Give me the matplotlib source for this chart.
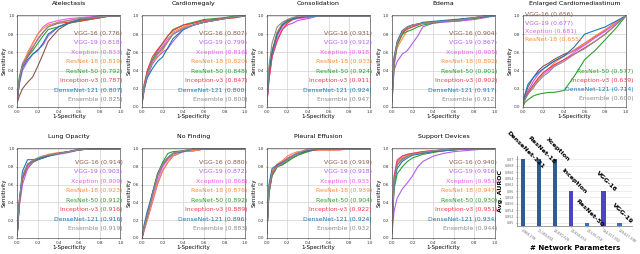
import matplotlib
matplotlib.use("Agg")
import matplotlib.pyplot as plt

# model names / colours shared by all ROC panels
MODELS = ["VGG-16", "VGG-19", "Xception", "ResNet-18", "ResNet-50",
          "Inception-v3", "DenseNet-121", "Ensemble"]
COLORS = ["#8c564b", "#b45cf0", "#f05cf0", "#ff8c3a", "#2ca02c",
          "#e8404a", "#1f77b4", "#8c8c8c"]

FPR = [0.0, 0.02, 0.05, 0.1, 0.15, 0.2, 0.25, 0.3, 0.4, 0.5, 0.6, 0.7, 0.8, 0.9, 1.0]

# ---- AUROC values per panel (legend) ----
AUC_ATEL = [0.776, 0.818, 0.833, 0.819, 0.792, 0.787, 0.807, 0.825]
AUC_CARDIO = [0.807, 0.799, 0.816, 0.820, 0.848, 0.847, 0.800, 0.800]
AUC_CONSOL = [0.931, 0.912, 0.918, 0.933, 0.924, 0.911, 0.924, 0.947]
AUC_EDEMA = [0.904, 0.867, 0.905, 0.892, 0.901, 0.902, 0.917, 0.912]
AUC_ENLARGED = [0.656, 0.677, 0.681, 0.655, 0.577, 0.639, 0.714, 0.600]
AUC_LUNG = [0.914, 0.903, 0.909, 0.923, 0.912, 0.916, 0.916, 0.919]
AUC_NOFIND = [0.880, 0.872, 0.868, 0.876, 0.892, 0.889, 0.896, 0.883]
AUC_PLEURAL = [0.919, 0.918, 0.933, 0.939, 0.904, 0.922, 0.924, 0.932]
AUC_SUPPORT = [0.940, 0.916, 0.951, 0.947, 0.930, 0.951, 0.934, 0.944]

# ---- sensitivity, one list per model ----
TPR_ATEL = [
    [0.05, 0.12, 0.20, 0.27, 0.33, 0.45, 0.58, 0.72, 0.85, 0.92, 0.95, 0.97, 0.98, 1.0, 1.0],
    [0.08, 0.25, 0.40, 0.50, 0.58, 0.63, 0.68, 0.78, 0.88, 0.93, 0.96, 0.98, 0.99, 1.0, 1.0],
    [0.10, 0.30, 0.48, 0.58, 0.70, 0.80, 0.88, 0.92, 0.95, 0.97, 0.98, 0.99, 1.0, 1.0, 1.0],
    [0.10, 0.30, 0.45, 0.60, 0.70, 0.80, 0.86, 0.90, 0.93, 0.95, 0.97, 0.98, 0.99, 1.0, 1.0],
    [0.10, 0.33, 0.46, 0.55, 0.62, 0.70, 0.78, 0.85, 0.88, 0.92, 0.94, 0.96, 0.98, 1.0, 1.0],
    [0.05, 0.28, 0.45, 0.55, 0.65, 0.75, 0.82, 0.88, 0.92, 0.93, 0.94, 0.96, 0.98, 1.0, 1.0],
    [0.08, 0.27, 0.43, 0.52, 0.58, 0.62, 0.70, 0.80, 0.88, 0.92, 0.96, 0.98, 1.0, 1.0, 1.0],
    [0.10, 0.30, 0.46, 0.57, 0.66, 0.74, 0.82, 0.88, 0.93, 0.95, 0.97, 0.98, 0.99, 1.0, 1.0],
]
TPR_CARDIO = [
    [0.05, 0.20, 0.35, 0.50, 0.58, 0.65, 0.72, 0.80, 0.86, 0.90, 0.93, 0.95, 0.97, 0.99, 1.0],
    [0.04, 0.18, 0.33, 0.47, 0.55, 0.60, 0.64, 0.72, 0.85, 0.90, 0.93, 0.95, 0.97, 0.99, 1.0],
    [0.05, 0.20, 0.36, 0.50, 0.60, 0.67, 0.75, 0.80, 0.87, 0.90, 0.93, 0.96, 0.98, 0.99, 1.0],
    [0.03, 0.20, 0.35, 0.50, 0.55, 0.62, 0.72, 0.82, 0.88, 0.92, 0.94, 0.95, 0.97, 0.98, 1.0],
    [0.06, 0.23, 0.38, 0.52, 0.62, 0.70, 0.78, 0.85, 0.90, 0.93, 0.96, 0.97, 0.98, 1.0, 1.0],
    [0.08, 0.25, 0.40, 0.55, 0.63, 0.70, 0.78, 0.84, 0.90, 0.92, 0.95, 0.96, 0.97, 0.98, 1.0],
    [0.05, 0.20, 0.32, 0.42, 0.50, 0.55, 0.65, 0.75, 0.85, 0.90, 0.93, 0.95, 0.97, 0.99, 1.0],
    [0.05, 0.22, 0.36, 0.50, 0.58, 0.64, 0.72, 0.80, 0.86, 0.90, 0.93, 0.95, 0.97, 0.99, 1.0],
]
TPR_CONSOL = [
    [0.05, 0.35, 0.60, 0.82, 0.90, 0.94, 0.97, 1.0, 1.0, 1.0, 1.0, 1.0, 1.0, 1.0, 1.0],
    [0.05, 0.30, 0.55, 0.75, 0.85, 0.90, 0.92, 0.95, 0.97, 1.0, 1.0, 1.0, 1.0, 1.0, 1.0],
    [0.02, 0.30, 0.55, 0.78, 0.88, 0.93, 0.96, 0.97, 0.98, 1.0, 1.0, 1.0, 1.0, 1.0, 1.0],
    [0.05, 0.40, 0.62, 0.82, 0.92, 0.96, 0.98, 0.98, 1.0, 1.0, 1.0, 1.0, 1.0, 1.0, 1.0],
    [0.03, 0.35, 0.60, 0.80, 0.90, 0.94, 0.96, 0.98, 1.0, 1.0, 1.0, 1.0, 1.0, 1.0, 1.0],
    [0.05, 0.30, 0.55, 0.72, 0.85, 0.92, 0.96, 0.98, 1.0, 1.0, 1.0, 1.0, 1.0, 1.0, 1.0],
    [0.05, 0.38, 0.60, 0.80, 0.90, 0.95, 0.97, 0.98, 0.99, 1.0, 1.0, 1.0, 1.0, 1.0, 1.0],
    [0.05, 0.45, 0.70, 0.88, 0.93, 0.96, 0.98, 1.0, 1.0, 1.0, 1.0, 1.0, 1.0, 1.0, 1.0],
]
TPR_EDEMA = [
    [0.10, 0.50, 0.68, 0.80, 0.88, 0.90, 0.91, 0.92, 0.93, 0.94, 0.94, 0.95, 0.98, 1.0, 1.0],
    [0.05, 0.40, 0.50, 0.58, 0.62, 0.70, 0.78, 0.88, 0.92, 0.93, 0.94, 0.95, 0.96, 0.98, 1.0],
    [0.10, 0.52, 0.70, 0.82, 0.87, 0.90, 0.91, 0.92, 0.93, 0.94, 0.95, 0.96, 0.97, 0.99, 1.0],
    [0.08, 0.48, 0.65, 0.75, 0.85, 0.88, 0.90, 0.92, 0.93, 0.94, 0.95, 0.96, 0.97, 0.99, 1.0],
    [0.05, 0.45, 0.68, 0.80, 0.83, 0.85, 0.88, 0.90, 0.92, 0.94, 0.95, 0.96, 0.97, 0.99, 1.0],
    [0.10, 0.50, 0.70, 0.82, 0.86, 0.88, 0.90, 0.92, 0.93, 0.94, 0.95, 0.97, 0.98, 1.0, 1.0],
    [0.10, 0.55, 0.72, 0.84, 0.88, 0.90, 0.91, 0.93, 0.94, 0.95, 0.96, 0.97, 0.98, 0.99, 1.0],
    [0.10, 0.52, 0.70, 0.83, 0.88, 0.90, 0.91, 0.92, 0.93, 0.94, 0.95, 0.96, 0.98, 1.0, 1.0],
]
TPR_ENLARGED = [
    [0.05, 0.12, 0.22, 0.32, 0.40, 0.45, 0.48, 0.52, 0.58, 0.62, 0.70, 0.77, 0.84, 0.92, 1.0],
    [0.02, 0.10, 0.18, 0.28, 0.36, 0.42, 0.46, 0.50, 0.56, 0.62, 0.68, 0.76, 0.84, 0.93, 1.0],
    [0.02, 0.08, 0.15, 0.24, 0.30, 0.36, 0.40, 0.45, 0.52, 0.60, 0.68, 0.76, 0.83, 0.92, 1.0],
    [0.05, 0.10, 0.15, 0.20, 0.30, 0.38, 0.42, 0.48, 0.56, 0.63, 0.70, 0.78, 0.85, 0.93, 1.0],
    [0.00, 0.05, 0.08, 0.12, 0.14, 0.15, 0.16, 0.16, 0.18, 0.34, 0.52, 0.62, 0.74, 0.86, 1.0],
    [0.04, 0.10, 0.16, 0.24, 0.32, 0.38, 0.42, 0.46, 0.52, 0.58, 0.65, 0.72, 0.80, 0.90, 1.0],
    [0.05, 0.14, 0.25, 0.32, 0.38, 0.42, 0.46, 0.50, 0.56, 0.66, 0.80, 0.84, 0.88, 0.94, 1.0],
    [0.03, 0.08, 0.14, 0.22, 0.28, 0.34, 0.38, 0.44, 0.50, 0.58, 0.64, 0.72, 0.80, 0.90, 1.0],
]
TPR_LUNG = [
    [0.05, 0.40, 0.68, 0.78, 0.85, 0.88, 0.90, 0.92, 0.95, 0.97, 1.0, 1.0, 1.0, 1.0, 1.0],
    [0.03, 0.35, 0.60, 0.78, 0.85, 0.88, 0.90, 0.92, 0.94, 0.96, 0.99, 1.0, 1.0, 1.0, 1.0],
    [0.05, 0.38, 0.65, 0.80, 0.86, 0.89, 0.91, 0.93, 0.95, 0.97, 0.99, 1.0, 1.0, 1.0, 1.0],
    [0.05, 0.42, 0.70, 0.82, 0.87, 0.90, 0.92, 0.94, 0.96, 0.97, 0.99, 1.0, 1.0, 1.0, 1.0],
    [0.05, 0.40, 0.66, 0.82, 0.86, 0.88, 0.90, 0.92, 0.95, 0.97, 0.99, 1.0, 1.0, 1.0, 1.0],
    [0.05, 0.40, 0.68, 0.83, 0.87, 0.89, 0.91, 0.93, 0.95, 0.97, 0.99, 1.0, 1.0, 1.0, 1.0],
    [0.05, 0.42, 0.75, 0.88, 0.88, 0.89, 0.90, 0.92, 0.95, 0.97, 0.99, 1.0, 1.0, 1.0, 1.0],
    [0.05, 0.42, 0.70, 0.83, 0.87, 0.90, 0.92, 0.93, 0.95, 0.97, 0.99, 1.0, 1.0, 1.0, 1.0],
]
TPR_NOFIND = [
    [0.00, 0.12, 0.25, 0.50, 0.72, 0.84, 0.90, 0.95, 0.98, 0.98, 1.0, 1.0, 1.0, 1.0, 1.0],
    [0.00, 0.08, 0.20, 0.40, 0.60, 0.76, 0.85, 0.92, 0.97, 0.98, 1.0, 1.0, 1.0, 1.0, 1.0],
    [0.00, 0.10, 0.22, 0.45, 0.65, 0.80, 0.88, 0.93, 0.97, 0.98, 1.0, 1.0, 1.0, 1.0, 1.0],
    [0.00, 0.10, 0.20, 0.42, 0.62, 0.75, 0.85, 0.92, 0.98, 0.98, 1.0, 1.0, 1.0, 1.0, 1.0],
    [0.00, 0.12, 0.25, 0.50, 0.72, 0.85, 0.95, 0.97, 0.98, 1.0, 1.0, 1.0, 1.0, 1.0, 1.0],
    [0.00, 0.12, 0.24, 0.48, 0.70, 0.82, 0.90, 0.95, 0.98, 1.0, 1.0, 1.0, 1.0, 1.0, 1.0],
    [0.00, 0.15, 0.30, 0.50, 0.70, 0.83, 0.90, 0.95, 0.97, 1.0, 1.0, 1.0, 1.0, 1.0, 1.0],
    [0.00, 0.12, 0.25, 0.48, 0.70, 0.83, 0.90, 0.95, 0.98, 1.0, 1.0, 1.0, 1.0, 1.0, 1.0],
]
TPR_PLEURAL = [
    [0.05, 0.50, 0.70, 0.80, 0.82, 0.86, 0.90, 0.93, 0.98, 1.0, 1.0, 1.0, 1.0, 1.0, 1.0],
    [0.05, 0.52, 0.72, 0.80, 0.84, 0.88, 0.92, 0.95, 0.98, 1.0, 1.0, 1.0, 1.0, 1.0, 1.0],
    [0.05, 0.55, 0.75, 0.82, 0.86, 0.90, 0.93, 0.96, 1.0, 1.0, 1.0, 1.0, 1.0, 1.0, 1.0],
    [0.05, 0.55, 0.75, 0.83, 0.87, 0.92, 0.95, 0.97, 0.98, 0.99, 0.99, 0.99, 1.0, 1.0, 1.0],
    [0.05, 0.50, 0.70, 0.80, 0.83, 0.86, 0.90, 0.93, 0.97, 1.0, 1.0, 1.0, 1.0, 1.0, 1.0],
    [0.05, 0.52, 0.72, 0.82, 0.85, 0.89, 0.92, 0.95, 0.98, 0.99, 0.99, 0.99, 1.0, 1.0, 1.0],
    [0.05, 0.60, 0.78, 0.82, 0.85, 0.88, 0.92, 0.95, 0.98, 1.0, 1.0, 1.0, 1.0, 1.0, 1.0],
    [0.05, 0.55, 0.74, 0.80, 0.84, 0.88, 0.92, 0.95, 1.0, 1.0, 1.0, 1.0, 1.0, 1.0, 1.0],
]
TPR_SUPPORT = [
    [0.10, 0.62, 0.82, 0.88, 0.92, 0.94, 0.95, 0.96, 0.97, 0.98, 0.99, 1.0, 1.0, 1.0, 1.0],
    [0.05, 0.30, 0.45, 0.55, 0.62, 0.70, 0.80, 0.86, 0.92, 0.95, 0.97, 0.98, 0.99, 1.0, 1.0],
    [0.10, 0.70, 0.88, 0.92, 0.94, 0.95, 0.96, 0.97, 0.98, 0.99, 1.0, 1.0, 1.0, 1.0, 1.0],
    [0.10, 0.65, 0.84, 0.90, 0.93, 0.95, 0.96, 0.97, 0.98, 0.99, 1.0, 1.0, 1.0, 1.0, 1.0],
    [0.05, 0.55, 0.72, 0.80, 0.86, 0.90, 0.92, 0.94, 0.96, 0.98, 0.99, 1.0, 1.0, 1.0, 1.0],
    [0.10, 0.68, 0.86, 0.92, 0.94, 0.95, 0.96, 0.97, 0.98, 0.99, 1.0, 1.0, 1.0, 1.0, 1.0],
    [0.08, 0.60, 0.78, 0.86, 0.90, 0.93, 0.94, 0.95, 0.97, 0.98, 0.99, 1.0, 1.0, 1.0, 1.0],
    [0.10, 0.62, 0.82, 0.89, 0.92, 0.94, 0.95, 0.96, 0.98, 0.99, 1.0, 1.0, 1.0, 1.0, 1.0],
]

# ---- bar chart: average AUROC vs network size ----
BAR_NAMES = ["DenseNet-121", "ResNet-18", "Xception", "Inception", "ResNet-50", "VGG-16", "VGG-19"]
BAR_PARAMS = ["6,968,206", "11,183,694", "20,830,526", "21,814,254", "23,536,718",
              "134,317,902", "139,627,598"]
BAR_AUROC = [0.87, 0.87, 0.87, 0.86, 0.85, 0.86, 0.85]
BAR_COLORS = ["#2a5f96", "#2a5f96", "#2a5f96", "#4b45c0", "#2f6fd8", "#4b45c0", "#2f6fd8"]

panels = [
    ("Atelectasis", TPR_ATEL, AUC_ATEL),
    ("Cardiomegaly", TPR_CARDIO, AUC_CARDIO),
    ("Consolidation", TPR_CONSOL, AUC_CONSOL),
    ("Edema", TPR_EDEMA, AUC_EDEMA),
    ("Enlarged Cardiomediastinum", TPR_ENLARGED, AUC_ENLARGED),
    ("Lung Opacity", TPR_LUNG, AUC_LUNG),
    ("No Finding", TPR_NOFIND, AUC_NOFIND),
    ("Pleural Effusion", TPR_PLEURAL, AUC_PLEURAL),
    ("Support Devices", TPR_SUPPORT, AUC_SUPPORT),
]

fig = plt.figure(figsize=(6.4, 2.54), dpi=100)
lefts = [0.027, 0.222, 0.417, 0.6125, 0.817]
w = 0.161

for i, (title, tprs, aucs) in enumerate(panels):
    row, col = divmod(i, 5)
    bottom, h = (0.579, 0.362) if row == 0 else (0.063, 0.354)
    ax = fig.add_axes([lefts[col], bottom, w, h])
    for tpr, c in zip(tprs, COLORS):
        ax.plot(FPR, tpr, color=c, lw=0.8)
    ax.set_xlim(0, 1)
    ax.set_ylim(0, 1.01)
    ax.set_xticks([0, 0.2, 0.4, 0.6, 0.8, 1.0])
    ax.set_yticks([0, 0.2, 0.4, 0.6, 0.8, 1.0])
    ax.tick_params(labelsize=3, length=1, width=0.4, pad=1, colors="#333333")
    ax.grid(color="#d0d0d0", lw=0.5)
    for s in ax.spines.values():
        s.set_linewidth(0.5)
        s.set_color("#555555")
    ax.set_title(title, fontsize=4.5, pad=7)
    ax.set_xlabel("1-Specificity", fontsize=4, labelpad=0.5)
    ax.set_ylabel("Sensitivity", fontsize=4, labelpad=1)

    y0, step = (0.8, 0.103) if row == 0 else (0.84, 0.105)
    for k, (m, a, c) in enumerate(zip(MODELS, aucs, COLORS)):
        label = f"{m} ({a:.3f})"
        if title == "Enlarged Cardiomediastinum":
            if k < 4:
                ax.text(0.02, 1.0 - 0.088 * k, label, color=c, fontsize=4.4,
                        ha="left", va="center", transform=ax.transAxes)
            else:
                ax.text(1.07, 0.39 - 0.1 * (k - 4), label, color=c, fontsize=4.4,
                        ha="right", va="center", transform=ax.transAxes)
        else:
            ax.text(1.02, y0 - step * k, label, color=c, fontsize=4.4,
                    ha="right", va="center", transform=ax.transAxes)

# bar chart
bx = fig.add_axes([0.808, 0.11, 0.18, 0.275])
xs = list(range(len(BAR_NAMES)))
bx.bar(xs, BAR_AUROC, width=0.28, color=BAR_COLORS, zorder=3)
bx.set_ylim(0.849, 0.871)
bx.set_xlim(-0.35, 6.8)
bx.set_yticks([0.85, 0.852, 0.854, 0.856, 0.858, 0.86, 0.862, 0.864, 0.866, 0.868, 0.87])
bx.set_yticklabels(["0.85", "0.852", "0.854", "0.856", "0.858", "0.86", "0.862",
                    "0.864", "0.866", "0.868", "0.87"])
bx.set_xticks(xs)
bx.set_xticklabels(BAR_PARAMS, rotation=-35, ha="left", rotation_mode="anchor")
bx.tick_params(labelsize=2.3, length=1, width=0.4, pad=1, colors="#666666")
bx.grid(axis="y", color="#e0e0e0", lw=0.4, zorder=0)
for s in ["top", "right"]:
    bx.spines[s].set_visible(False)
for s in ["left", "bottom"]:
    bx.spines[s].set_linewidth(0.5)
    bx.spines[s].set_color("#777777")
bx.set_xlabel("# Network Parameters", fontsize=5, fontweight="bold", labelpad=0.5)
bx.set_ylabel("Avg. AUROC", fontsize=4.5, fontweight="bold", labelpad=1)
for x, v, name in zip(xs, BAR_AUROC, BAR_NAMES):
    bx.annotate(name, (x, v), xytext=(2, 7), textcoords="offset points",
                rotation=-45, ha="center", va="center", fontsize=4.6,
                fontweight="bold", annotation_clip=False)

fig.savefig("out.png", dpi=100)
